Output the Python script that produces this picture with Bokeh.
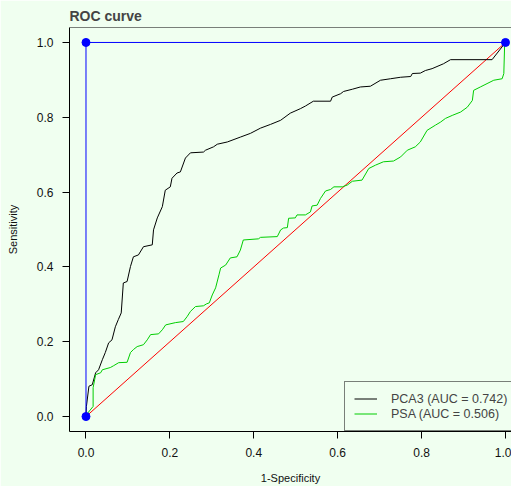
from bokeh.plotting import figure
from bokeh.models import Range1d, FixedTicker, Span, Legend, LegendItem, CustomJSTickFormatter
from bokeh.embed import file_html
from bokeh.resources import INLINE

# ---- data ----
pca3_fpr = [0.0, 0.001, 0.007, 0.015, 0.023, 0.030, 0.039, 0.046, 0.054, 0.062, 0.070, 0.077,
            0.084, 0.089, 0.098, 0.106, 0.113, 0.125, 0.137, 0.158, 0.161, 0.170, 0.182, 0.189,
            0.201, 0.205, 0.217, 0.225, 0.237, 0.249, 0.280, 0.285, 0.304, 0.313, 0.337, 0.368,
            0.392, 0.416, 0.440, 0.464, 0.487, 0.511, 0.523, 0.542, 0.583, 0.587, 0.607, 0.614,
            0.635, 0.654, 0.678, 0.702, 0.726, 0.750, 0.774, 0.778, 0.797, 0.809, 0.825, 0.852,
            0.869, 0.968, 1.0]
pca3_tpr = [0.0, 0.027, 0.081, 0.085, 0.117, 0.125, 0.152, 0.171, 0.197, 0.205, 0.240, 0.259,
            0.277, 0.357, 0.361, 0.401, 0.427, 0.432, 0.454, 0.459, 0.499, 0.531, 0.561, 0.605,
            0.614, 0.637, 0.651, 0.654, 0.691, 0.705, 0.707, 0.712, 0.721, 0.728, 0.734, 0.747,
            0.757, 0.771, 0.781, 0.792, 0.811, 0.823, 0.830, 0.843, 0.843, 0.854, 0.863, 0.869,
            0.875, 0.881, 0.883, 0.899, 0.903, 0.907, 0.909, 0.917, 0.918, 0.925, 0.930, 0.943,
            0.954, 0.954, 1.0]

psa_fpr = [0.0, 0.001, 0.017, 0.017, 0.023, 0.035, 0.039, 0.058, 0.066, 0.078, 0.098, 0.106,
           0.113, 0.122, 0.137, 0.146, 0.154, 0.173, 0.182, 0.190, 0.213, 0.232, 0.241, 0.249,
           0.261, 0.280, 0.287, 0.294, 0.301, 0.309, 0.317, 0.321, 0.333, 0.344, 0.360, 0.368,
           0.375, 0.411, 0.416, 0.456, 0.464, 0.471, 0.480, 0.483, 0.499, 0.503, 0.523, 0.535,
           0.539, 0.551, 0.559, 0.571, 0.583, 0.591, 0.611, 0.623, 0.635, 0.658, 0.674, 0.690,
           0.709, 0.733, 0.750, 0.766, 0.785, 0.797, 0.813, 0.833, 0.845, 0.857, 0.873, 0.893,
           0.909, 0.921, 0.924, 0.940, 0.956, 0.972, 0.992, 0.996, 0.998, 1.0]
psa_tpr = [0.0, 0.005, 0.027, 0.077, 0.112, 0.117, 0.125, 0.131, 0.136, 0.144, 0.145, 0.171,
           0.179, 0.187, 0.192, 0.205, 0.219, 0.221, 0.232, 0.245, 0.251, 0.254, 0.267, 0.281,
           0.294, 0.296, 0.301, 0.304, 0.325, 0.344, 0.379, 0.397, 0.405, 0.424, 0.427, 0.445,
           0.472, 0.475, 0.479, 0.481, 0.499, 0.504, 0.505, 0.530, 0.531, 0.539, 0.539, 0.547,
           0.563, 0.565, 0.583, 0.603, 0.607, 0.614, 0.614, 0.619, 0.629, 0.632, 0.663, 0.672,
           0.681, 0.683, 0.694, 0.712, 0.721, 0.734, 0.765, 0.779, 0.787, 0.797, 0.805, 0.814,
           0.827, 0.845, 0.872, 0.881, 0.890, 0.899, 0.903, 0.917, 0.997, 1.0]

ideal_x = [0.0, 0.0, 1.0]
ideal_y = [0.0, 1.0, 1.0]
chance_x = [0.0, 1.0]
chance_y = [0.0, 1.0]

x_ticks = [0.0, 0.2, 0.4, 0.6, 0.8, 1.0]
y_ticks = [0.0, 0.2, 0.4, 0.6, 0.8, 1.0]
labels = ["PCA3 (AUC = 0.742)", "PSA (AUC = 0.506)"]

BG = "#F0FFF0"
FONT = "Liberation Sans"

p = figure(width=511, height=486, output_backend="svg", toolbar_location=None,
           x_range=Range1d(-0.0393, 1.0143), y_range=Range1d(-0.04, 1.04),
           min_border_left=69, min_border_right=0, min_border_top=27, min_border_bottom=54,
           title="ROC curve")
p.background_fill_color = BG
p.border_fill_color = BG
p.outline_line_color = None
p.grid.visible = False

p.title.text_font = FONT
p.title.text_font_size = "14px"
p.title.text_font_style = "bold"
p.title.align = "left"
p.title.standoff = 8
p.title.offset = 0

fmt = CustomJSTickFormatter(code="return tick.toFixed(1);")
for ax, ticks in ((p.xaxis[0], x_ticks), (p.yaxis[0], y_ticks)):
    ax.ticker = FixedTicker(ticks=ticks)
    ax.formatter = fmt
    ax.minor_tick_line_color = None
    ax.major_tick_in = 0
    ax.major_tick_out = 7
    ax.major_tick_line_color = "black"
    ax.axis_line_color = "black"
    ax.major_label_text_font = FONT
    ax.major_label_text_font_size = "12px"
    ax.major_label_text_color = "#111111"
    ax.axis_label_text_font = FONT
    ax.axis_label_text_font_size = "11px"
    ax.axis_label_text_font_style = "normal"
    ax.axis_label_text_color = "#111111"

p.xaxis.axis_label = "1-Specificity"
p.yaxis.axis_label = "Sensitivity"
p.xaxis.major_label_standoff = 9
p.xaxis.axis_label_standoff = 12
p.yaxis.major_label_standoff = 9
p.yaxis.axis_label_standoff = 15

p.add_layout(Span(location=1.04, dimension="width", line_color="black", line_width=1))

p.line(chance_x, chance_y, line_color="#FF0000", line_width=1)
r1 = p.line(pca3_fpr, pca3_tpr, line_color="black", line_width=1)
r2 = p.line(psa_fpr, psa_tpr, line_color="#00CD00", line_width=1)
p.line(ideal_x, ideal_y, line_color="#0000FF", line_width=1)
p.scatter(ideal_x, ideal_y, size=8, fill_color="#0000FF", line_color="#0000FF")

legend = Legend(items=[LegendItem(label=labels[0], renderers=[r1]),
                       LegendItem(label=labels[1], renderers=[r2])],
                location=(275, 0), margin=0, padding=9, spacing=0,
                label_height=15, glyph_height=15, glyph_width=23, label_standoff=14,
                label_text_font=FONT, label_text_font_size="12.5px",
                border_line_color="black", border_line_width=1,
                background_fill_color=BG, background_fill_alpha=1.0)
p.add_layout(legend)

open("out.html", "w").write(file_html(p, INLINE))
